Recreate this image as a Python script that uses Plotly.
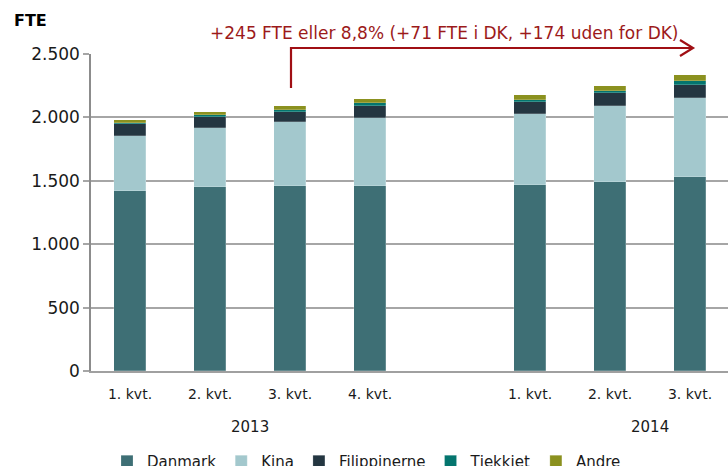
import plotly.graph_objects as go

# ---- data ----
positions = [0, 1, 2, 3, 5, 6, 7]
quarter_labels = ["1. kvt.", "2. kvt.", "3. kvt.", "4. kvt.", "1. kvt.", "2. kvt.", "3. kvt."]
years = ["2013", "2014"]
year_centers = [1.5, 6.5]

danmark = [1422, 1453, 1461, 1461, 1467, 1493, 1531]
kina = [434, 464, 506, 537, 563, 600, 625]
filippinerne = [89, 89, 79, 95, 95, 97, 103]
tjekkiet = [8, 11, 10, 18, 10, 22, 32]
andre = [30, 29, 37, 37, 45, 39, 47]

series_names = ["Danmark", "Kina", "Filippinerne", "Tjekkiet", "Andre"]
series_values = [danmark, kina, filippinerne, tjekkiet, andre]
series_colors = ["#3E6F75", "#A3C8CD", "#243641", "#04756E", "#8B911F"]

annotation_text = "+245 FTE eller 8,8% (+71 FTE i DK, +174 uden for DK)"

FONT = "DejaVu Sans"
W, H = 728, 466
ML, MR, MT, MB = 91, 0, 54, 95
PW = W - ML - MR
PH = H - MT - MB


def px_x(p):
    return (p - ML) / PW


def px_y(p):
    return (H - MB - p) / PH


fig = go.Figure()
for name, vals, col in zip(series_names, series_values, series_colors):
    fig.add_trace(go.Bar(
        x=positions, y=vals, name=name, width=0.4,
        marker=dict(color=col, line=dict(color="rgba(255,255,255,0.25)", width=0.8)),
    ))

# year labels
for yr, xc in zip(years, year_centers):
    fig.add_annotation(x=xc, xref="x", y=px_y(427), yref="paper", text=yr,
                       showarrow=False, font=dict(family=FONT, size=15, color="#1a1a1a"),
                       xanchor="center", yanchor="middle")

# FTE label
fig.add_annotation(x=px_x(12), xref="paper", y=px_y(20), yref="paper", text="<b>FTE</b>",
                   showarrow=False, font=dict(family=FONT, size=16, color="#000000"),
                   xanchor="left", yanchor="middle")

# growth annotation
red = "#A00F14"
fig.add_annotation(x=px_x(444), xref="paper", y=px_y(33), yref="paper", text=annotation_text,
                   showarrow=False, font=dict(family=FONT, size=17, color="#9C1A1A"),
                   xanchor="center", yanchor="middle")
x0, y0, y1, x1 = px_x(291), px_y(88), px_y(48), px_x(693)
fig.add_shape(type="path", xref="paper", yref="paper",
              path=f"M {x0} {y0} L {x0} {y1} L {x1} {y1}",
              line=dict(color=red, width=2.2))
fig.add_shape(type="path", xref="paper", yref="paper",
              path=f"M {px_x(680)} {px_y(40)} L {x1} {y1} L {px_x(680)} {px_y(56)}",
              line=dict(color=red, width=2.2))

fig.update_layout(
    width=W, height=H,
    barmode="stack",
    bargap=0,
    plot_bgcolor="white", paper_bgcolor="white",
    margin=dict(l=ML, r=MR, t=MT, b=MB, autoexpand=False),
    font=dict(family=FONT, color="#1a1a1a"),
    showlegend=True,
    legend=dict(orientation="h", x=px_x(107), xanchor="left", y=px_y(445), yanchor="top",
                font=dict(family=FONT, size=15, color="#1a1a1a"), traceorder="normal",
                itemclick=False),
    xaxis=dict(
        range=[-0.4875, 7.475], tickmode="array", tickvals=positions, ticktext=quarter_labels,
        showgrid=False, zeroline=False, showline=True, linecolor="#A0A0A0", linewidth=1.5,
        ticks="", tickfont=dict(family=FONT, size=14, color="#1a1a1a"),
        ticklabelstandoff=9,
    ),
    yaxis=dict(
        range=[0, 2500], tickmode="array", tickvals=[0, 500, 1000, 1500, 2000, 2500],
        ticktext=["0", "500", "1.000", "1.500", "2.000", "2.500"],
        showgrid=True, gridcolor="#A6A6A6", gridwidth=1.5,
        zeroline=False, showline=True, linecolor="#8C8C8C", linewidth=1.5,
        ticks="outside", ticklen=6, tickcolor="#A6A6A6", tickwidth=1.5,
        tickfont=dict(family=FONT, size=17, color="#1a1a1a"),
    ),
)

fig.write_html("out.html", config={"displayModeBar": False},
               post_script="document.body.style.margin='0';")
